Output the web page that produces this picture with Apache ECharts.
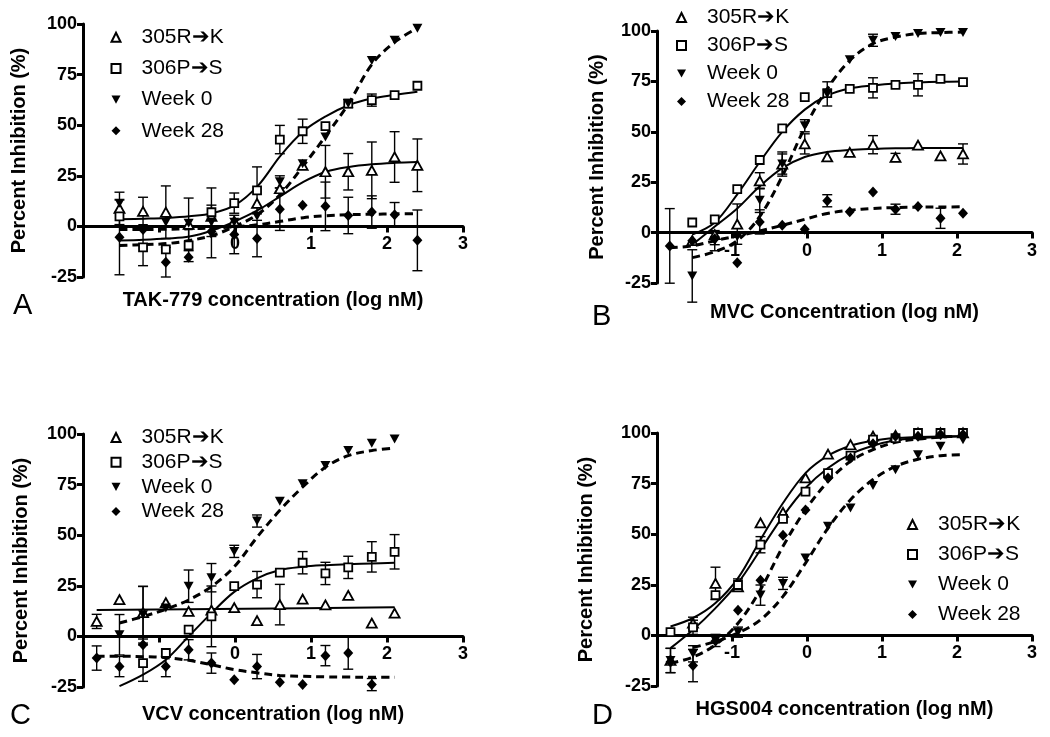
<!DOCTYPE html>
<html>
<head>
<meta charset="utf-8">
<script src="https://cdn.jsdelivr.net/npm/echarts/dist/echarts.min.js"></script>
<style>
html,body{margin:0;padding:0;background:#fff;}
#chart{width:1050px;height:737px;}
</style>
</head>
<body>
<div id="chart"></div>
<script>
// ---------- DATA ----------
const seriesNames = ['305R\u2794K', '306P\u2794S', 'Week 0', 'Week 28'];
const panelLetters = ['A', 'B', 'C', 'D'];
const xTitles = ['TAK-779 concentration (log nM)', 'MVC Concentration (log nM)', 'VCV concentration (log nM)', 'HGS004 concentration (log nM)'];
const yTitle = 'Percent Inhibition (%)';

// Panel A (TAK-779)
const xA = [-1.52, -1.21, -0.91, -0.61, -0.31, -0.01, 0.29, 0.59, 0.89, 1.19, 1.49, 1.80, 2.10, 2.40];
const A_305 = [8.9, 7.4, 7, 1, 5, 2.6, 11.4, 18.6, 30.2, 27, 27, 27.7, 34.3, 30.2];
const A_305_err = [8, 7, 13, 13, 0, 0, 0, 0, 0, 13, 9, 14, 12.5, 13];
const A_306 = [5, -10.4, -11.4, -9.4, 7, 11.5, 17.8, 42.9, 47, 49.5, 60.7, 62.4, 64.9, 69.5];
const A_306_err = [0, 9, 0, 8, 12, 5, 11.6, 7, 6, 0, 2, 3, 0, 0];
const A_w0 = [11.4, -1, 2, 1.5, 2, 2, 5, 22, 31, 44.2, 60.7, 82, 92, 97.9];
const A_w0_err = [0, 0, 0, 0, 0, 0, 0, 3, 0, 0, 0, 0, 0, 0];
const A_w28 = [-5.4, -1.5, -17.7, -15.2, -2.5, -4, -6, 8.5, 10.4, 9.9, 5.4, 7.1, 5.8, -6.9];
const A_w28_err = [18.5, 0, 7.3, 0, 13, 9.5, 9, 10.5, 0, 12, 9, 8, 6, 15];
const fitXA = [-1.52, -1.2, -0.9, -0.6, -0.3, 0, 0.3, 0.6, 0.9, 1.2, 1.5, 1.8, 2.1, 2.4];
const A_305_fit = [-7, -6.6, -6, -5, -2, 2.5, 8, 15, 22, 27, 29.4, 30.7, 31.4, 31.8];
const A_306_fit = [3.5, 3.8, 4.2, 5, 6.5, 10.5, 20, 35, 47, 54.5, 60, 63.2, 65, 66.5];
const A_w0_fit = [-9.4, -9, -8.5, -7, -4.5, 0, 6, 16, 30, 45, 61, 80, 91, 98];
const A_w28_fit = [-1.5, -1.5, -1.4, -1.2, -0.8, -0.2, 0.8, 2.5, 4.3, 5.3, 5.8, 6, 6.2, 6.3];

// Panel B (MVC)
const xB = [-1.83, -1.53, -1.23, -0.93, -0.63, -0.33, -0.03, 0.27, 0.57, 0.88, 1.18, 1.48, 1.78, 2.08];
const B_305 = [null, -4, -1, 4.2, 25.7, 34, 44, 37.6, 39.8, 43.6, 37.3, 43.4, 38.1, 39];
const B_305_err = [0, 0, 0, 10, 4, 6, 5, 0, 0, 4.5, 2, 0, 0, 5];
const B_306 = [null, 5, 6.6, 21.6, 36, 51.7, 67.2, 69.2, 71.3, 71.8, 73.3, 73.3, 76.3, 74.6];
const B_306_err = [0, 0, 0, 0, 0, 0, 0, 0, 0, 5, 0, 5.5, 0, 0];
const B_w0 = [null, -21.5, -4, -2, 16, 34, 53, 68.8, 85.7, 95.4, 97.3, 98.7, 99.2, 99.2];
const B_w0_err = [0, 13, 5, 0, 6, 5, 3, 6, 0, 3, 0, 0, 0, 0];
const B_w28 = [-6.6, -4.1, -3, -15, 5.3, 3.7, 1.7, 15.8, 10.3, 20.2, 11.6, 12.9, 7.1, 9.6];
const B_w28_err = [18.5, 0, 3, 0, 6, 0, 0, 3, 0, 0, 2.5, 0, 5, 0];
const fitXB = [-1.83, -1.53, -1.23, -0.93, -0.63, -0.33, -0.03, 0.27, 0.57, 0.88, 1.18, 1.48, 1.78, 2.08];
const B_305_fit = [null, -6, 3, 12, 23, 32, 37.5, 40, 41, 41.5, 41.8, 42, 42, 42];
const B_306_fit = [null, -1, 5, 19, 35, 50, 61, 68, 71.5, 73, 74, 74.5, 74.8, 75];
const B_w0_fit = [null, -12.4, -9.5, -4, 8, 28, 52, 71.3, 85.4, 93.7, 97, 98.7, 99.2, 99.5];
const B_w28_fit = [-7.5, -6.6, -4, -1.7, 0.8, 3.6, 6.6, 9.5, 11.1, 12, 12.4, 12.6, 12.7, 12.8];

// Panel C (VCV)
const xC = [-1.82, -1.52, -1.21, -0.91, -0.61, -0.31, -0.01, 0.29, 0.59, 0.89, 1.19, 1.49, 1.80, 2.10];
const C_305 = [7.4, 18.2, 11.7, 16.7, 12.4, 13, 14.2, 7.8, 15.7, 18.4, 15.6, 20.3, 6.6, 11.5];
const C_305_err = [3.5, 0, 13, 0, 0, 0, 0, 0, 10, 0, 0, 0, 0, 0];
const C_306 = [null, null, -13.2, -8.2, 3.3, 9.9, 24.8, 25.6, 31.5, 36.4, 31.1, 34.1, 39.3, 41.8];
const C_306_err = [0, 0, 9, 0, 0, 15, 0, 6.5, 0, 5.5, 5.5, 5.5, 7.5, 8.5];
const C_w0 = [null, 0.8, 10.7, 14, 24.8, 29, 42, 57, 66.8, 75.4, 84.4, 91.8, 95.4, 97.5];
const C_w0_err = [0, 10, 14, 0, 8, 7, 3, 3, 0, 0, 0, 0, 0, 0];
const C_w28 = [-10.7, -14.9, -4.1, -14.9, -6.6, -13.2, -21.4, -14.9, -22.6, -23.8, -9.5, -8.2, -23.8, null];
const C_w28_err = [6, 5, 0, 5, 5, 5, 0, 6, 0, 0, 5, 8, 3, 0];
const fitXC = [-1.82, -1.52, -1.21, -0.91, -0.61, -0.31, -0.01, 0.29, 0.59, 0.89, 1.19, 1.49, 1.80, 2.10];
const fitXC_305 = [-1.82, 0.14, 2.10];
const C_305_fit = [13.1, 13.7, 14.4];
const C_306_fit = [null, -24.6, -18.9, -11.5, 0, 11.5, 22, 28.7, 32.8, 34.4, 35.2, 35.7, 36, 36.4];
const C_w0_fit = [null, 6.6, 9.8, 13.4, 18, 24.6, 34.4, 49, 62.3, 73.8, 83.6, 89.3, 91.8, 93.1];
const C_w28_fit = [-9.8, -9.8, -10, -10.5, -11.8, -14, -16.4, -18, -19.3, -19.7, -20, -20.1, -20.2, -20.2];

// Panel D (HGS004)
const xD = [-1.82, -1.52, -1.22, -0.92, -0.62, -0.32, -0.02, 0.28, 0.58, 0.88, 1.18, 1.48, 1.78, 2.08];
const D_305 = [-12.4, 6, 25.7, 24, 55.6, 60.8, 77.8, 89.6, 94.2, 98.4, 98.8, 100, 100, 100];
const D_305_err = [6, 3, 8, 0, 0, 0, 0, 0, 0, 0, 0, 0, 0, 0];
const D_306 = [1.6, 4, 19.9, 24.9, 44.8, 57.6, 71, 80.2, 88.8, 96.7, 97.5, 100, 100, 100];
const D_306_err = [0, 3.5, 0, 3, 4, 0, 0, 0, 0, 0, 0, 0, 0, 0];
const D_w0 = [-12.4, -9.1, -2.5, 1.6, 19.9, 25.7, 38.2, 53.9, 62.9, 74.1, 81.9, 89.3, 93.4, 96.7];
const D_w0_err = [6, 4, 3, 2.5, 5, 3, 0, 0, 0, 0, 0, 0, 0, 0];
const D_w28 = [-13.2, -14.9, -2.8, 12.4, 27.2, 49.5, 61.9, 77.8, 87.6, 94.7, 98.4, 98.4, 99.2, 99.2];
const D_w28_err = [0, 8, 0, 0, 0, 0, 0, 0, 0, 0, 0, 0, 0, 0];
const fitXD = [-1.82, -1.52, -1.22, -0.92, -0.62, -0.32, -0.02, 0.28, 0.58, 0.88, 1.18, 1.48, 1.78, 2.08];
const D_305_fit = [4.4, 8.6, 16, 28.3, 47.3, 65.4, 80.2, 88.8, 93.7, 96.2, 97.5, 98, 98.3, 98.4];
const D_306_fit = [-6.3, 2.8, 13.5, 25.9, 42.3, 58.8, 72.8, 82.7, 89.6, 93.7, 96.4, 97.5, 98, 98.4];
const D_w0_fit = [null, -6, -3, 1.2, 7.7, 19.3, 35.7, 53, 67, 77, 83.5, 87, 88.8, 89.3];
const D_w28_fit = [-13.7, -10.7, -4.6, 6, 22.6, 44, 62, 76, 86, 91.8, 95.4, 97, 98, 98.5];

// ---------- LAYOUT / STYLE ----------
const FONT = 'Liberation Sans, Arial, Helvetica, sans-serif';
const layout = [
  {left: 83, top: 24, width: 380, height: 253, hideBelow: 0, xGap: 13, yGap: 54,
   legend: {left: 110.5, top: 26.7, gap: 10.2}, letter: [13, 308]},
  {left: 657, top: 31, width: 375, height: 252, hideBelow: -1, xGap: 19, yGap: 50,
   legend: {left: 676, top: 7, gap: 7}, letter: [592, 319]},
  {left: 83, top: 434, width: 380, height: 253, hideBelow: 0, xGap: 17, yGap: 52,
   legend: {left: 110.5, top: 427, gap: 3.7}, letter: [10, 718]},
  {left: 657, top: 433, width: 375, height: 253, hideBelow: -1, xGap: 13, yGap: 61,
   legend: {left: 907, top: 514, gap: 9}, letter: [592, 718]}
];

const panels = [
  {x: xA, y: [A_305, A_306, A_w0, A_w28], e: [A_305_err, A_306_err, A_w0_err, A_w28_err],
   fx: [fitXA, fitXA, fitXA, fitXA], fy: [A_305_fit, A_306_fit, A_w0_fit, A_w28_fit]},
  {x: xB, y: [B_305, B_306, B_w0, B_w28], e: [B_305_err, B_306_err, B_w0_err, B_w28_err],
   fx: [fitXB, fitXB, fitXB, fitXB], fy: [B_305_fit, B_306_fit, B_w0_fit, B_w28_fit]},
  {x: xC, y: [C_305, C_306, C_w0, C_w28], e: [C_305_err, C_306_err, C_w0_err, C_w28_err],
   fx: [fitXC_305, fitXC, fitXC, fitXC], fy: [C_305_fit, C_306_fit, C_w0_fit, C_w28_fit]},
  {x: xD, y: [D_305, D_306, D_w0, D_w28], e: [D_305_err, D_306_err, D_w0_err, D_w28_err],
   fx: [fitXD, fitXD, fitXD, fitXD], fy: [D_305_fit, D_306_fit, D_w0_fit, D_w28_fit]}
];

const symbols = [
  {symbol: 'triangle', size: [10, 9], style: {color: '#fff', borderColor: '#000', borderWidth: 1.8, opacity: 1}},
  {symbol: 'rect', size: [8, 8], style: {color: '#fff', borderColor: '#000', borderWidth: 1.8, opacity: 1}},
  {symbol: 'path://M0,0L10,0L5,9Z', size: [10, 9], style: {color: '#000', opacity: 1}},
  {symbol: 'diamond', size: [10, 11], style: {color: '#000', opacity: 1}}
];
const fitStyles = [
  {type: 'solid', width: 2},
  {type: 'solid', width: 2},
  {type: [8, 5], width: 3},
  {type: [8, 5], width: 3}
];

function renderErr(params, api) {
  const x = api.value(0), lo = api.value(1), hi = api.value(2);
  const p1 = api.coord([x, hi]), p2 = api.coord([x, lo]);
  const w = 5;
  const st = {stroke: '#000', lineWidth: 1.4};
  return {type: 'group', children: [
    {type: 'line', shape: {x1: p1[0], y1: p1[1], x2: p2[0], y2: p2[1]}, style: st},
    {type: 'line', shape: {x1: p1[0] - w, y1: p1[1], x2: p1[0] + w, y2: p1[1]}, style: st},
    {type: 'line', shape: {x1: p2[0] - w, y1: p2[1], x2: p2[0] + w, y2: p2[1]}, style: st}
  ]};
}

const grid = [], xAxis = [], yAxis = [], series = [], legend = [], graphic = [];

layout.forEach((L, i) => {
  const P = panels[i];
  // distance from the zero line up from the bottom edge (y range -25..100)
  const zeroUp = L.height * 25 / 125;
  grid.push({left: L.left, top: L.top, width: L.width, height: L.height});
  xAxis.push({
    gridIndex: i, type: 'value', min: -2, max: 3, interval: 1,
    axisLine: {onZero: true, lineStyle: {color: '#000', width: 3}},
    axisTick: {show: true, length: 6, lineStyle: {color: '#000', width: 3}},
    axisLabel: {fontSize: 18, fontWeight: 'bold', color: '#000', fontFamily: FONT, margin: 9 - zeroUp,
      formatter: v => (v < L.hideBelow ? '' : String(v))},
    splitLine: {show: false},
    name: xTitles[i], nameLocation: 'middle', nameGap: L.xGap,
    nameTextStyle: {fontSize: 20, fontWeight: 'bold', color: '#000', fontFamily: FONT}
  });
  yAxis.push({
    gridIndex: i, type: 'value', min: -25, max: 100, interval: 25,
    axisLine: {show: true, onZero: false, lineStyle: {color: '#000', width: 3}},
    axisTick: {show: true, length: 6, lineStyle: {color: '#000', width: 3}},
    axisLabel: {fontSize: 18, fontWeight: 'bold', color: '#000', fontFamily: FONT, margin: 6},
    splitLine: {show: false},
    name: yTitle, nameLocation: 'middle', nameGap: L.yGap,
    nameTextStyle: {fontSize: 20, fontWeight: 'bold', color: '#000', fontFamily: FONT}
  });
  for (let s = 0; s < 4; s++) {
    const errData = [];
    P.x.forEach((xv, k) => {
      const yv = P.y[s][k], ev = P.e[s][k];
      if (yv != null && ev) errData.push([xv, yv - ev, yv + ev]);
    });
    series.push({
      type: 'custom', name: 'err' + i + s, xAxisIndex: i, yAxisIndex: i, z: 2, silent: true,
      renderItem: renderErr, encode: {x: 0, y: [1, 2]}, data: errData
    });
    series.push({
      type: 'line', name: 'fit' + i + s, xAxisIndex: i, yAxisIndex: i, z: 3, silent: true,
      smooth: 0.35, symbol: 'none',
      lineStyle: {color: '#000', width: fitStyles[s].width, type: fitStyles[s].type},
      data: P.fx[s].map((xv, k) => [xv, P.fy[s][k]]).filter(d => d[1] != null)
    });
    series.push({
      type: 'scatter', name: seriesNames[s], xAxisIndex: i, yAxisIndex: i, z: 4,
      symbol: symbols[s].symbol, symbolSize: symbols[s].size, itemStyle: symbols[s].style,
      data: P.x.map((xv, k) => [xv, P.y[s][k]]).filter(d => d[1] != null)
    });
  }
  legend.push({
    orient: 'vertical', left: L.legend.left, top: L.legend.top, itemGap: L.legend.gap,
    itemWidth: 9, itemHeight: 9, selectedMode: false, padding: 0,
    data: seriesNames,
    textStyle: {fontSize: 21, color: '#000', fontFamily: FONT, lineHeight: 20, padding: [0, 0, 0, 16]}
  });
  graphic.push({
    type: 'text', left: L.letter[0], top: L.letter[1] - 17,
    style: {text: panelLetters[i], fontSize: 29, fill: '#000', fontFamily: FONT}
  });
});

const chart = echarts.init(document.getElementById('chart'));
chart.setOption({
  animation: false,
  grid, xAxis, yAxis, series, legend, graphic
});
</script>
</body>
</html>
